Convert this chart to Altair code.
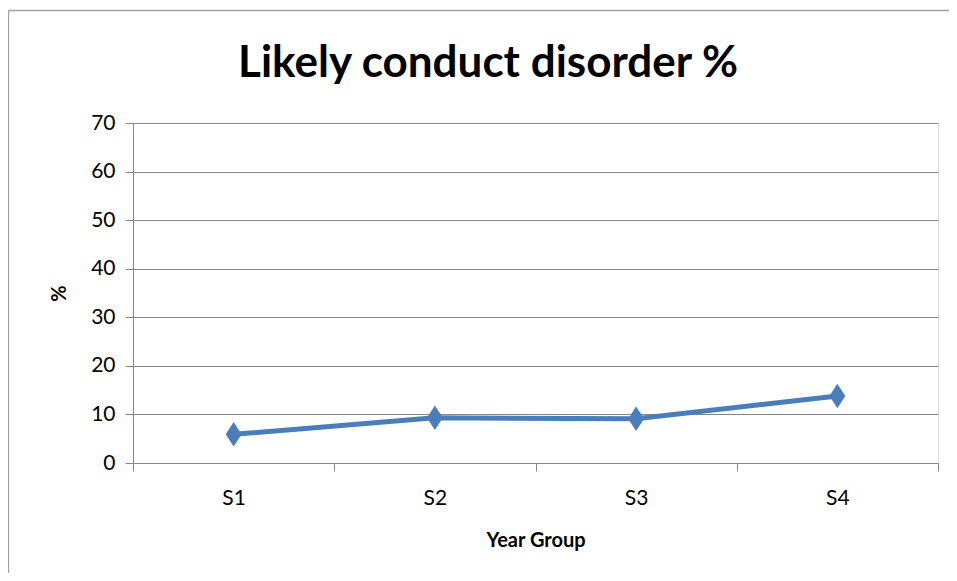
import altair as alt
import pandas as pd

categories = ["S1", "S2", "S3", "S4"]
values = [5.9, 9.3, 9.1, 13.8]
y_ticks = [0, 10, 20, 30, 40, 50, 60, 70]
title_text = "Likely conduct disorder %"

df = pd.DataFrame({
    "group": categories,
    "pos": [i + 0.5 for i in range(len(categories))],
    "value": values,
})

label_expr = "[" + ",".join(f"'{c}'" for c in categories) + ",''][datum.value]"

W, H = 805, 340
GRID = "#868686"
BLUE = "#4a7ebb"
FONT = "Lato"

x_enc = alt.X(
    "pos:Q",
    scale=alt.Scale(domain=[0, len(categories)], nice=False, zero=False),
    axis=alt.Axis(
        values=list(range(len(categories) + 1)),
        labelExpr=label_expr,
        labelOffset=W / len(categories) / 2,
        labelFlush=False,
        labelOverlap=False,
        labelBound=False,
        grid=False,
        tickSize=8,
        tickColor=GRID,
        domainColor=GRID,
        labelPadding=16,
        labelFontSize=21,
        labelFont=FONT,
        labelColor="black",
        title="Year Group",
        titleFont=FONT,
        titleFontSize=20,
        titleFontWeight="bold",
        titlePadding=22,
        titleColor="black",
    ),
)
y_enc = alt.Y(
    "value:Q",
    scale=alt.Scale(domain=[0, 70], nice=False),
    axis=alt.Axis(
        values=y_ticks,
        grid=True,
        gridColor=GRID,
        gridWidth=1.2,
        tickSize=8,
        tickColor=GRID,
        domainColor=GRID,
        labelPadding=10,
        labelFontSize=21,
        labelFont=FONT,
        labelColor="black",
        title="%",
        titleFont=FONT,
        titleFontSize=20,
        titleFontWeight="bold",
        titlePadding=21,
        titleColor="black",
    ),
)

one = pd.DataFrame({"a": [0]})
FRAME = "#a0a0a0"

frame_top = alt.Chart(one).mark_rule(color=FRAME, strokeWidth=1.3, clip=False).encode(
    x=alt.value(-124.5), x2=alt.value(816), y=alt.value(-112.5)
)
frame_left = alt.Chart(one).mark_rule(color=FRAME, strokeWidth=1.3, clip=False).encode(
    x=alt.value(-124.5), y=alt.value(-112.5), y2=alt.value(450)
)

title = alt.Chart(one).mark_text(
    font=FONT, fontSize=44, fontWeight="bold", color="black",
    align="center", baseline="alphabetic", clip=False,
).encode(x=alt.value(355), y=alt.value(-46), text=alt.value(title_text))

line = alt.Chart(df).mark_line(color=BLUE, strokeWidth=5).encode(x=x_enc, y=y_enc)
points = alt.Chart(df).mark_point(
    shape="M0,-1L0.65,0L0,1L-0.65,0Z", filled=True, color=BLUE, size=600, opacity=1
).encode(x=x_enc, y=y_enc)

chart = alt.layer(frame_top, frame_left, title, line, points).properties(
    width=W, height=H,
    autosize=alt.AutoSizeParams(type="none"),
    padding={"left": 125, "top": 115, "right": 11, "bottom": 110},
).configure_view(stroke=None).configure(background="white")

chart.save("out.html", embed_options={"renderer": "svg", "actions": False})
